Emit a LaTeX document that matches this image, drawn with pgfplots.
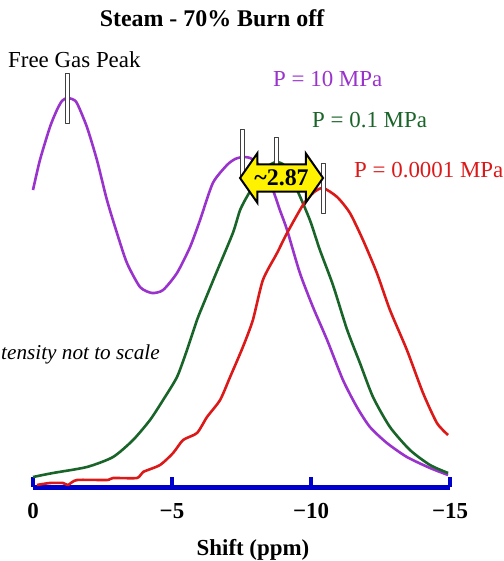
\documentclass[border=0pt]{standalone}
\usepackage{fontspec}
\setmainfont{Liberation Serif}
\usepackage{pgfplots}
\pgfplotsset{compat=1.18}
\usetikzlibrary{shapes.arrows}
\definecolor{cpurple}{RGB}{153,51,204}
\definecolor{cgreen}{RGB}{25,100,40}
\definecolor{cred}{RGB}{220,25,25}
\definecolor{cblue}{RGB}{0,0,204}
\pgfdeclareplotmark{pbar}{\pgfpathrectangle{\pgfqpoint{-2bp}{-25bp}}{\pgfqpoint{4bp}{50bp}}\pgfusepathqfillstroke}
\newcommand{\fs}{\fontsize{23}{23}\selectfont}
\begin{document}
\begin{tikzpicture}
\useasboundingbox (-33bp,-74bp) rectangle (471bp,487bp);
\begin{axis}[at={(0,0)}, anchor=south west, scale only axis,
  width=417bp, height=420bp,
  xmin=-15, xmax=0, x dir=reverse, ymin=0, ymax=420,
  axis x line=bottom, axis y line=none,
  axis line style={draw=cblue, line width=5bp, -},
  xtick={0,-5,-10,-15}, xticklabels={0,−5,−10,−15},
  ytick=\empty,
  tick align=inside, major tick length=10bp,
  every tick/.style={draw=cblue, line width=4bp},
  xticklabel style={font=\fs\bfseries, anchor=base, yshift=-31bp, inner sep=0pt},
  xlabel={Shift (ppm)},
  xlabel style={font=\fs\bfseries, at={(rel axis cs:0.5,0)}, anchor=base, yshift=-68bp, xshift=11.5bp, inner sep=0pt},
  clip=false,
  every axis plot/.append style={line width=2.6bp, smooth, tension=0.4, line join=round},
]
% P = 10 MPa
\addplot[cpurple] coordinates {
(0,297) (-0.25,327) (-0.61,360) (-0.86,377) (-1.04,386) (-1.22,389) (-1.40,388)
(-1.58,384) (-1.94,360) (-2.30,327) (-2.66,287) (-3.02,254) (-3.38,224) (-3.85,200)
(-4.28,194) (-4.68,197) (-5.18,214) (-5.65,240) (-6.01,267) (-6.47,304) (-6.98,322)
(-7.27,328) (-7.55,330) (-7.81,329) (-8.06,324) (-8.35,312) (-8.63,297) (-8.88,277)
(-9.14,257) (-9.60,214) (-10.07,180) (-10.58,147) (-11.15,107) (-11.65,80)
(-12.12,60) (-12.73,44) (-13.45,30) (-14.28,19) (-14.93,12)
};
% P = 0.1 MPa
\addplot[cgreen] coordinates {
(0,10) (-0.72,14) (-1.94,20) (-2.88,30) (-3.60,47) (-4.21,67) (-4.68,87) (-5.18,110)
(-5.54,137) (-5.90,167) (-6.19,187) (-6.62,216) (-7.19,254) (-7.45,277) (-7.73,292)
(-8.09,308) (-8.42,320) (-8.74,325) (-9.06,321) (-9.50,297) (-9.96,267) (-10.32,237)
(-10.79,202) (-11.29,158) (-11.76,124) (-12.23,90) (-12.84,60) (-13.56,37)
(-14.28,22) (-14.93,14)
};
% P = 0.0001 MPa
\addplot[cred] coordinates {
(-0.14,2) (-0.61,4) (-1.08,4) (-1.26,2) (-1.58,7) (-2.66,7) (-2.88,9) (-3.74,9)
(-3.96,15) (-4.57,22) (-5.04,34) (-5.40,47) (-5.90,54) (-6.26,70) (-6.73,87)
(-7.09,110) (-7.55,140) (-7.91,167) (-8.27,207) (-8.78,234) (-9.14,254) (-9.71,282)
(-10.07,294) (-10.43,299) (-10.94,290) (-11.40,274) (-11.87,247) (-12.37,214)
(-12.84,177) (-13.45,137) (-14.03,94) (-14.53,64) (-14.93,52)
};
% peak markers
\addplot[only marks, mark=pbar, mark options={draw=black!75, fill=white, line width=0.8bp}]
coordinates {(-1.22,389) (-7.55,333) (-8.74,325) (-10.43,299)};
\coordinate (arr) at (axis cs:-8.94,309);
\end{axis}
\node[double arrow, fill=yellow, draw=black, line width=2bp,
  double arrow head extend=11bp, double arrow tip angle=110,
  minimum height=83bp, inner xsep=0pt, inner ysep=4.5bp,
  font=\fontsize{24}{24}\selectfont\bfseries] at (arr) {\textasciitilde2.87};
\node[anchor=base, inner sep=0pt, font=\fontsize{24}{24}\selectfont\bfseries] at (179bp,460bp) {Steam - 70\% Burn off};
\node[anchor=base west, inner sep=0pt, font=\fs] at (-25bp,419bp) {Free Gas Peak};
\node[anchor=base west, inner sep=0pt, font=\fs, text=cpurple] at (240bp,400bp) {P = 10 MPa};
\node[anchor=base west, inner sep=0pt, font=\fs, text=cgreen] at (279bp,359bp) {P = 0.1 MPa};
\node[anchor=base west, inner sep=0pt, font=\fs, text=cred] at (321bp,309bp) {P = 0.0001 MPa};
\node[anchor=base west, inner sep=0pt, font=\fontsize{21.3}{21.3}\selectfont\itshape] at (-32bp,127bp) {tensity not to scale};
\end{tikzpicture}
\end{document}
